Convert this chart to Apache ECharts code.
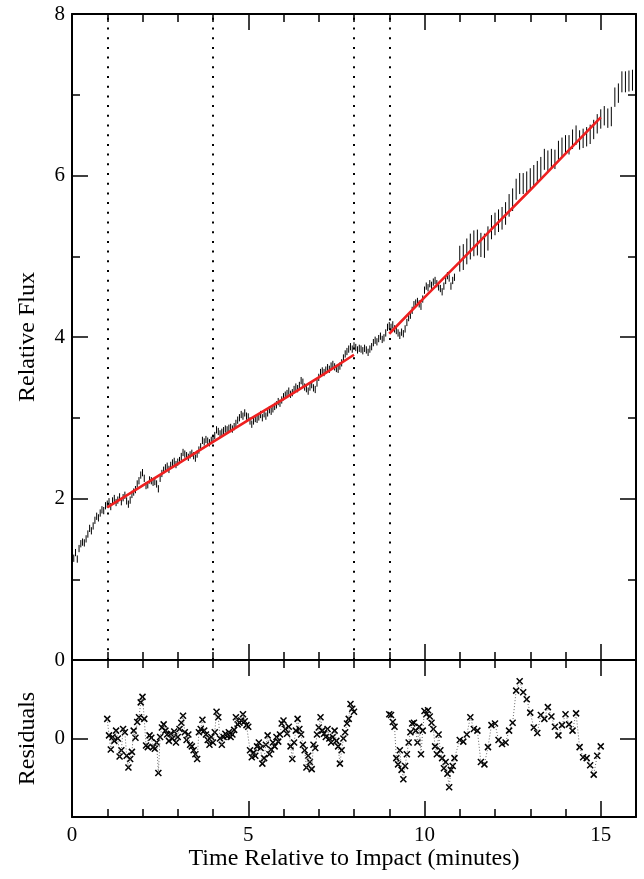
<!DOCTYPE html>
<html>
<head>
<meta charset="utf-8">
<script src="https://cdn.jsdelivr.net/npm/echarts@6/dist/echarts.min.js"></script>
<style>
  html, body { margin: 0; padding: 0; background: #fff; }
  #chart { width: 644px; height: 879px; }
</style>
</head>
<body>
<div id="chart"></div>
<script>
// flux, fast cadence: one reading every 0.05 min from t = 0
var denseStart = 0, denseStep = 0.05;
var denseErr = 0.045;
var denseFlux = [
  1.22, 1.26, 1.33, 1.25, 1.38, 1.44, 1.46, 1.45, 1.50, 1.56,
  1.63, 1.60, 1.66, 1.73, 1.78, 1.76, 1.82, 1.86, 1.85, 1.91,
  1.93, 1.96, 1.90, 1.97, 2.00, 1.95, 1.98, 2.02, 1.96, 2.01,
  2.04, 1.97, 1.93, 1.98, 2.05, 2.08, 2.11, 2.18, 2.22, 2.29,
  2.32, 2.25, 2.16, 2.17, 2.23, 2.22, 2.20, 2.21, 2.18, 2.12,
  2.25, 2.31, 2.35, 2.38, 2.40, 2.36, 2.41, 2.44, 2.46, 2.42,
  2.45, 2.47, 2.52, 2.57, 2.55, 2.53, 2.51, 2.54, 2.56, 2.53,
  2.50, 2.55, 2.60, 2.64, 2.72, 2.70, 2.73, 2.71, 2.69, 2.72,
  2.75, 2.78, 2.85, 2.83, 2.80, 2.82, 2.84, 2.86, 2.85, 2.87,
  2.88, 2.86, 2.89, 2.93, 2.97, 3.00, 3.04, 3.02, 3.06, 3.02,
  3.01, 2.96, 2.92, 2.96, 2.99, 2.98, 3.01, 3.04, 3.00, 3.05,
  3.02, 3.06, 3.10, 3.08, 3.11, 3.14, 3.16, 3.20, 3.18, 3.22,
  3.26, 3.28, 3.30, 3.33, 3.29, 3.31, 3.35, 3.38, 3.36, 3.40,
  3.46, 3.44, 3.38, 3.36, 3.33, 3.38, 3.41, 3.37, 3.35, 3.43,
  3.50, 3.56, 3.58, 3.56, 3.59, 3.62, 3.60, 3.64, 3.66, 3.63,
  3.61, 3.60, 3.64, 3.68, 3.74, 3.79, 3.82, 3.85, 3.88, 3.85,
  3.89, 3.87, 3.84, 3.86, 3.85, 3.83, 3.86, 3.84, 3.81, 3.85,
  3.88, 3.93, 3.96, 3.94, 3.98, 4.01, 3.97, 3.99, 4.05, 4.12,
  4.14, 4.12, 4.15, 4.10, 4.08, 4.05, 4.02, 4.06, 4.04, 4.10,
  4.18, 4.24, 4.27, 4.33, 4.40, 4.42, 4.44, 4.41, 4.38, 4.47,
  4.58, 4.63, 4.61, 4.66, 4.64, 4.68, 4.70, 4.66, 4.62, 4.60,
  4.56, 4.63, 4.70, 4.76, 4.73, 4.63, 4.70, 4.74
];

// flux, slow cadence: one reading every 0.1 min from t = 11
var sparseStart = 11, sparseStep = 0.1;
var sparseFlux = [
  4.97, 4.99, 5.06, 5.12, 5.16, 5.17, 5.14, 5.13, 5.22, 5.36,
  5.40, 5.44, 5.47, 5.53, 5.63, 5.70, 5.83, 5.90, 5.90, 5.92,
  5.96, 6.00, 6.05, 6.10, 6.20, 6.18, 6.21, 6.20, 6.31, 6.35,
  6.38, 6.38, 6.45, 6.50, 6.44, 6.46, 6.48, 6.51, 6.57, 6.64,
  6.70, 6.74, 6.71, 6.73, 6.97, 7.02, 7.16, 7.16, 7.17, 7.18,
  7.18
];
var sparseErr = [
  0.16, 0.16, 0.16, 0.16, 0.16, 0.16, 0.15, 0.15, 0.15, 0.15,
  0.14, 0.14, 0.14, 0.14, 0.14, 0.14, 0.13, 0.13, 0.13, 0.13,
  0.13, 0.13, 0.13, 0.13, 0.13, 0.13, 0.12, 0.12, 0.12, 0.12,
  0.12, 0.12, 0.12, 0.12, 0.12, 0.12, 0.12, 0.12, 0.12, 0.12,
  0.12, 0.12, 0.12, 0.12, 0.12, 0.12, 0.13, 0.13, 0.13, 0.13,
  0.13
];

// fitted model (red)
var fitTimesA = [1, 2, 3, 4, 5, 6, 7, 8];
var fitA = [1.89, 2.16, 2.43, 2.70, 2.97, 3.23, 3.50, 3.78];
var fitTimesB = [9, 10, 11, 12, 13, 14, 15];
var fitB = [4.04, 4.49, 4.93, 5.38, 5.82, 6.27, 6.72];

// dotted markers
var markTimes = [1, 4, 8, 9];

// residuals
var resAStart = 1, resAStep = 0.05;
var resA = [
  0.25, 0.04, -0.14, 0.02, -0.03, 0.10, 0.00, -0.23, -0.15, 0.12,
  0.08, -0.22, -0.37, -0.26, -0.17, 0.10, 0.01, 0.21, 0.27, 0.46,
  0.53, 0.25, -0.09, -0.11, 0.04, 0.01, -0.11, -0.13, -0.05, -0.44,
  0.02, 0.14, 0.18, 0.10, 0.05, -0.03, 0.06, 0.00, 0.09, -0.05,
  0.02, 0.12, 0.20, 0.29, 0.08, -0.02, 0.05, -0.08, -0.10, -0.15,
  -0.20, -0.26, 0.08, 0.12, 0.24, 0.10, 0.05, -0.02, -0.08, 0.02,
  -0.05, 0.08, 0.34, 0.27, 0.00, -0.08, 0.02, 0.06, 0.03, 0.08,
  0.02, 0.05, 0.11, 0.27, 0.18, 0.20, 0.23, 0.31, 0.22, 0.17,
  0.15, -0.15, -0.24, -0.18, -0.22, -0.10, -0.05, -0.12, -0.32, -0.25,
  -0.08, 0.04, -0.20, -0.14, -0.05, -0.10, 0.02, -0.04, 0.05, 0.19,
  0.23, 0.12, 0.06, 0.15, -0.10, -0.26, -0.05, 0.10, 0.25, 0.12,
  0.05, -0.08, -0.15, -0.37, -0.22, -0.30, -0.39, -0.08, -0.12, 0.05,
  0.14, 0.27, 0.10, 0.06, 0.02, 0.12, 0.00, -0.05, 0.02, 0.10,
  -0.03, -0.10, -0.32, -0.15, 0.00, 0.08, 0.19, 0.25, 0.44, 0.38,
  0.34
];
var resBStart = 9, resBStep = 0.05;
var resB = [
  0.31, 0.30, 0.21, 0.15, -0.25, -0.33, -0.15, -0.40, -0.52, -0.35,
  -0.20, -0.05, 0.08, 0.19, 0.20, 0.10, -0.05, 0.15, -0.20, 0.10,
  0.35, 0.31, 0.36, 0.28, 0.20, 0.12, -0.10, -0.20, 0.05, -0.15,
  -0.25, -0.38, -0.30, -0.45, -0.62, -0.40, -0.35, -0.25
];
var resCStart = 11, resCStep = 0.1;
var resC = [
  -0.02, -0.04, 0.05, 0.27, 0.12, 0.10, -0.30, -0.33, -0.11, 0.17,
  0.19, -0.02, -0.07, -0.05, 0.10, 0.20, 0.61, 0.73, 0.59, 0.50,
  0.33, 0.14, 0.07, 0.30, 0.25, 0.40, 0.28, 0.15, 0.04, 0.17,
  0.31, 0.18, 0.10, 0.32, -0.11, -0.24, -0.25, -0.34, -0.46, -0.22,
  -0.10
];

var FONT = 'Liberation Serif';

function sampled(start, step, vals) {
  return vals.map(function (v, i) { return [+(start + i * step).toFixed(3), v]; });
}

var fluxData = [];
denseFlux.forEach(function (f, i) { fluxData.push([+(denseStart + i * denseStep).toFixed(3), f, denseErr]); });
sparseFlux.forEach(function (f, i) { fluxData.push([+(sparseStart + i * sparseStep).toFixed(3), f, sparseErr[i]]); });

var resPts = sampled(resAStart, resAStep, resA)
  .concat(sampled(resBStart, resBStep, resB))
  .concat(sampled(resCStart, resCStep, resC));
var resLine = sampled(resAStart, resAStep, resA)
  .concat([[8.5, null]])
  .concat(sampled(resBStart, resBStep, resB))
  .concat(sampled(resCStart, resCStep, resC));

function zip(xs, ys) { return xs.map(function (x, i) { return [x, ys[i]]; }); }

function renderBar(params, api) {
  var t = api.value(0), f = api.value(1), e = api.value(2);
  var lo = api.coord([t, f - e]), hi = api.coord([t, f + e]);
  return {
    type: 'line',
    shape: { x1: lo[0], y1: lo[1], x2: hi[0], y2: hi[1] },
    style: { stroke: '#000', lineWidth: 1 }
  };
}

function renderCross(params, api) {
  var p = api.coord([api.value(0), api.value(1)]);
  var s = 3;
  return {
    type: 'group',
    children: [
      { type: 'line', shape: { x1: p[0] - s, y1: p[1] - s, x2: p[0] + s, y2: p[1] + s }, style: { stroke: '#000', lineWidth: 1.5 } },
      { type: 'line', shape: { x1: p[0] - s, y1: p[1] + s, x2: p[0] + s, y2: p[1] - s }, style: { stroke: '#000', lineWidth: 1.5 } }
    ]
  };
}

var tick = { show: true, inside: true, length: 16, lineStyle: { color: '#000', width: 1.5 } };
var axLine = { show: true, onZero: false, lineStyle: { color: '#000', width: 2 } };
var lbl = { fontFamily: FONT, fontSize: 21, color: '#000' };
var nameStyle = { fontFamily: FONT, fontSize: 24, color: '#000' };

function xAx(grid, pos, showLabel) {
  return {
    type: 'value', gridIndex: grid, position: pos, min: 0, max: 16, interval: 5,
    axisLine: axLine, axisTick: tick,
    minorTick: { show: true, splitNumber: 5, length: 8, lineStyle: { color: '#000', width: 1.5 } },
    splitLine: { show: false },
    axisLabel: Object.assign({ show: showLabel, margin: 8, showMaxLabel: false }, lbl)
  };
}

var chart = echarts.init(document.getElementById('chart'), null, { renderer: 'canvas' });
chart.setOption({
  animation: false,
  backgroundColor: '#fff',
  textStyle: { fontFamily: FONT },
  grid: [
    { left: 72, right: 8, top: 14, height: 646 },
    { left: 72, right: 8, top: 660, height: 157 }
  ],
  xAxis: [
    xAx(0, 'bottom', false),
    xAx(0, 'top', false),
    Object.assign(xAx(1, 'bottom', true), {
      name: 'Time Relative to Impact (minutes)', nameLocation: 'middle', nameGap: 29,
      nameTextStyle: nameStyle
    }),
    xAx(1, 'top', false)
  ],
  yAxis: [
    {
      type: 'value', gridIndex: 0, position: 'left', min: 0, max: 8, interval: 2,
      axisLine: axLine, axisTick: tick,
      minorTick: { show: true, splitNumber: 2, length: 8, lineStyle: { color: '#000', width: 1.5 } },
      splitLine: { show: false },
      axisLabel: Object.assign({ margin: 7 }, lbl),
      name: 'Relative Flux', nameLocation: 'middle', nameGap: 32,
      nameTextStyle: nameStyle
    },
    {
      type: 'value', gridIndex: 0, position: 'right', min: 0, max: 8, interval: 2,
      axisLine: axLine, axisTick: tick,
      minorTick: { show: true, splitNumber: 2, length: 8, lineStyle: { color: '#000', width: 1.5 } },
      splitLine: { show: false }, axisLabel: { show: false }
    },
    {
      type: 'value', gridIndex: 1, position: 'left', min: -1, max: 1, interval: 1,
      axisLine: axLine, axisTick: tick, splitLine: { show: false },
      axisLabel: Object.assign({ margin: 7, formatter: function (v) { return v === 0 ? '0' : ''; } }, lbl),
      name: 'Residuals', nameLocation: 'middle', nameGap: 32,
      nameTextStyle: nameStyle
    },
    {
      type: 'value', gridIndex: 1, position: 'right', min: -1, max: 1, interval: 1,
      axisLine: axLine, axisTick: tick, splitLine: { show: false }, axisLabel: { show: false }
    }
  ],
  series: [
    {
      type: 'custom', xAxisIndex: 0, yAxisIndex: 0, renderItem: renderBar,
      dimensions: ['t', 'flux', 'err'], encode: { x: 0, y: 1 },
      data: fluxData, silent: true
    },
    {
      type: 'line', xAxisIndex: 0, yAxisIndex: 0, data: zip(fitTimesA, fitA),
      showSymbol: false, lineStyle: { color: '#ee2020', width: 2.6 }, silent: true,
      markLine: {
        silent: true, symbol: 'none', label: { show: false },
        lineStyle: { color: '#000', width: 2, type: [2, 7.7] },
        data: markTimes.map(function (t) { return { xAxis: t }; })
      }
    },
    {
      type: 'line', xAxisIndex: 0, yAxisIndex: 0, data: zip(fitTimesB, fitB),
      showSymbol: false, lineStyle: { color: '#ee2020', width: 2.6 }, silent: true
    },
    {
      type: 'line', xAxisIndex: 2, yAxisIndex: 2, data: resLine,
      showSymbol: false, connectNulls: false,
      lineStyle: { color: '#666', width: 1, type: [1, 2] }, silent: true
    },
    {
      type: 'custom', xAxisIndex: 2, yAxisIndex: 2, renderItem: renderCross,
      encode: { x: 0, y: 1 }, data: resPts, silent: true
    }
  ]
});
</script>
</body>
</html>
